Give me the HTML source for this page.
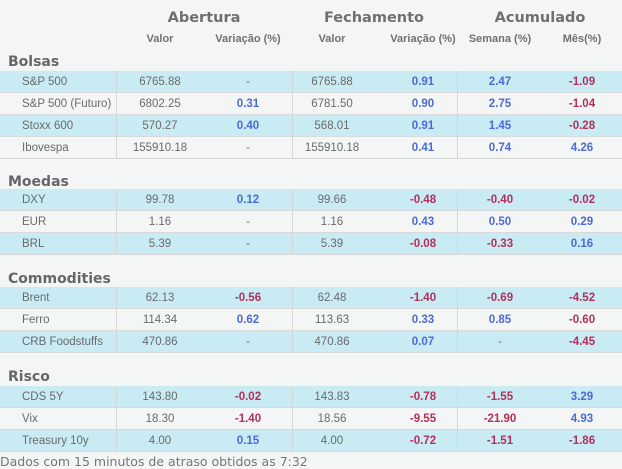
<!DOCTYPE html><html><head><style>
body{margin:0;width:622px;height:467px;background:#f4f5f5;font-family:"Liberation Sans",sans-serif;position:relative;overflow:hidden;color:#6a6a6a}
.a{position:absolute}
.h1{font-family:"DejaVu Sans",sans-serif;font-weight:bold;font-size:14.5px;color:#6f6f6f;text-align:center}
.h2{font-weight:bold;font-size:11px;color:#707070;text-align:center}
.sec{font-family:"DejaVu Sans",sans-serif;font-weight:bold;font-size:14px;color:#666;left:8px}
.row{position:absolute;left:0;width:622px;height:21px;border-bottom:1px solid #d9d9d9;font-size:11.5px;line-height:22px}
.row.c{background:#c9ebf4}
.row span{position:absolute;text-align:center;width:100px;margin-left:-50px}
.row .n{left:22px;margin-left:0;text-align:left;width:auto}
.row i{position:absolute;top:0;height:22px;border-left:1px solid #d6d6d6}
.b{color:#4b6bd3;font-weight:bold}.r{color:#b2305a;font-weight:bold}
</style></head><body>
<div class="a h1" style="left:134px;width:140px;top:10px">Abertura</div>
<div class="a h1" style="left:304px;width:140px;top:10px">Fechamento</div>
<div class="a h1" style="left:470px;width:140px;top:10px">Acumulado</div>
<div class="a h2" style="left:110px;width:100px;top:33px">Valor</div>
<div class="a h2" style="left:198px;width:100px;top:33px">Variação (%)</div>
<div class="a h2" style="left:282px;width:100px;top:33px">Valor</div>
<div class="a h2" style="left:373px;width:100px;top:33px">Variação (%)</div>
<div class="a h2" style="left:450px;width:100px;top:33px">Semana (%)</div>
<div class="a h2" style="left:532px;width:100px;top:33px">Mês(%)</div>
<div id="t"></div>
<div class="a" style="left:0;top:454px;font-family:'DejaVu Sans',sans-serif;font-size:12.5px;color:#777">Dados com 15 minutos de atraso obtidos as 7:32</div>
<script>
var G=[["Bolsas",54,71,[["S&P 500","6765.88","-","6765.88","0.91","2.47","-1.09"],["S&P 500 (Futuro)","6802.25","0.31","6781.50","0.90","2.75","-1.04"],["Stoxx 600","570.27","0.40","568.01","0.91","1.45","-0.28"],["Ibovespa","155910.18","-","155910.18","0.41","0.74","4.26"]]],
["Moedas",174,189,[["DXY","99.78","0.12","99.66","-0.48","-0.40","-0.02"],["EUR","1.16","-","1.16","0.43","0.50","0.29"],["BRL","5.39","-","5.39","-0.08","-0.33","0.16"]]],
["Commodities",271,287,[["Brent","62.13","-0.56","62.48","-1.40","-0.69","-4.52"],["Ferro","114.34","0.62","113.63","0.33","0.85","-0.60"],["CRB Foodstuffs","470.86","-","470.86","0.07","-","-4.45"]]],
["Risco",369,386,[["CDS 5Y","143.80","-0.02","143.83","-0.78","-1.55","3.29"],["Vix","18.30","-1.40","18.56","-9.55","-21.90","4.93"],["Treasury 10y","4.00","0.15","4.00","-0.72","-1.51","-1.86"]]]];
var X=[160,248,332,423,500,582],h="";
G.forEach(function(g){h+='<div class="a sec" style="top:'+g[1]+'px">'+g[0]+'</div>';
g[3].forEach(function(r,k){h+='<div class="row'+(k%2?'':' c')+'" style="top:'+(g[2]+k*22)+'px"><span class="n">'+r[0].replace("&","&amp;")+'</span><i style="left:116px"></i><i style="left:292px"></i><i style="left:457px"></i>';
for(var j=1;j<7;j++){var v=r[j],c="";if(j!=1&&j!=3&&v!="-")c=v[0]=="-"?"r":"b";h+='<span class="'+c+'" style="left:'+X[j-1]+'px">'+v+'</span>';}
h+='</div>';});});
document.getElementById("t").innerHTML=h;
</script></body></html>
